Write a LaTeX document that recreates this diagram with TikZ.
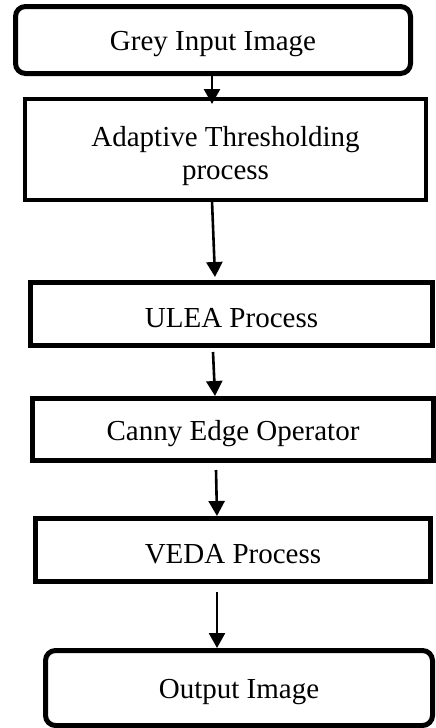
\documentclass[tikz,border=0pt]{standalone}
\usepackage{fontspec}
\setmainfont{Liberation Serif}
\usetikzlibrary{arrows.meta}
\begin{document}
\begin{tikzpicture}[x=0.5pt,y=-0.5pt,
  box/.style={draw=black, line width=2.5pt, fill=white, inner sep=0pt, align=center,
    font=\fontsize{14.5}{16.5}\selectfont},
  rbox/.style={box, rounded corners=5pt},
  arr/.style={line width=1.3pt, -{Triangle[length=7.5pt,width=8pt]}}]
\useasboundingbox (0,0) rectangle (435,728);
\node[rbox, minimum width=197.5pt, minimum height=33.5pt] (b1) at (213,40) {\rule{0pt}{13.8pt}Grey Input Image};
\node[box, line width=2pt, minimum width=200.5pt, minimum height=50.5pt] (b2) at (225.5,149.5) {\rule{0pt}{17pt}Adaptive Thresholding\\process};
\node[box, minimum width=201pt, minimum height=31.5pt] (b3) at (231.5,314) {\rule{0pt}{13.8pt}ULEA Process};
\node[box, minimum width=200.5pt, minimum height=31pt] (b4) at (233,429.5) {\rule{0pt}{13.8pt}Canny Edge Operator};
\node[box, minimum width=197.5pt, minimum height=31.5pt] (b5) at (233,550) {\rule{0pt}{13.8pt}VEDA Process};
\node[rbox, minimum width=193.5pt, minimum height=37.5pt] (b6) at (239,688) {\rule{0pt}{13.8pt}Output Image};
\coordinate (a1s) at (212,76);  \coordinate (a1e) at (212,104);
\coordinate (a2s) at (212,201); \coordinate (a2e) at (215,277);
\coordinate (a3s) at (213,352); \coordinate (a3e) at (215,396);
\coordinate (a4s) at (216,470); \coordinate (a4e) at (217,516);
\coordinate (a5s) at (217,592); \coordinate (a5e) at (217,648);
\draw[arr] (a1s) -- (a1e);
\draw[arr] (a2s) -- (a2e);
\draw[arr] (a3s) -- (a3e);
\draw[arr] (a4s) -- (a4e);
\draw[arr] (a5s) -- (a5e);
\end{tikzpicture}
\end{document}
